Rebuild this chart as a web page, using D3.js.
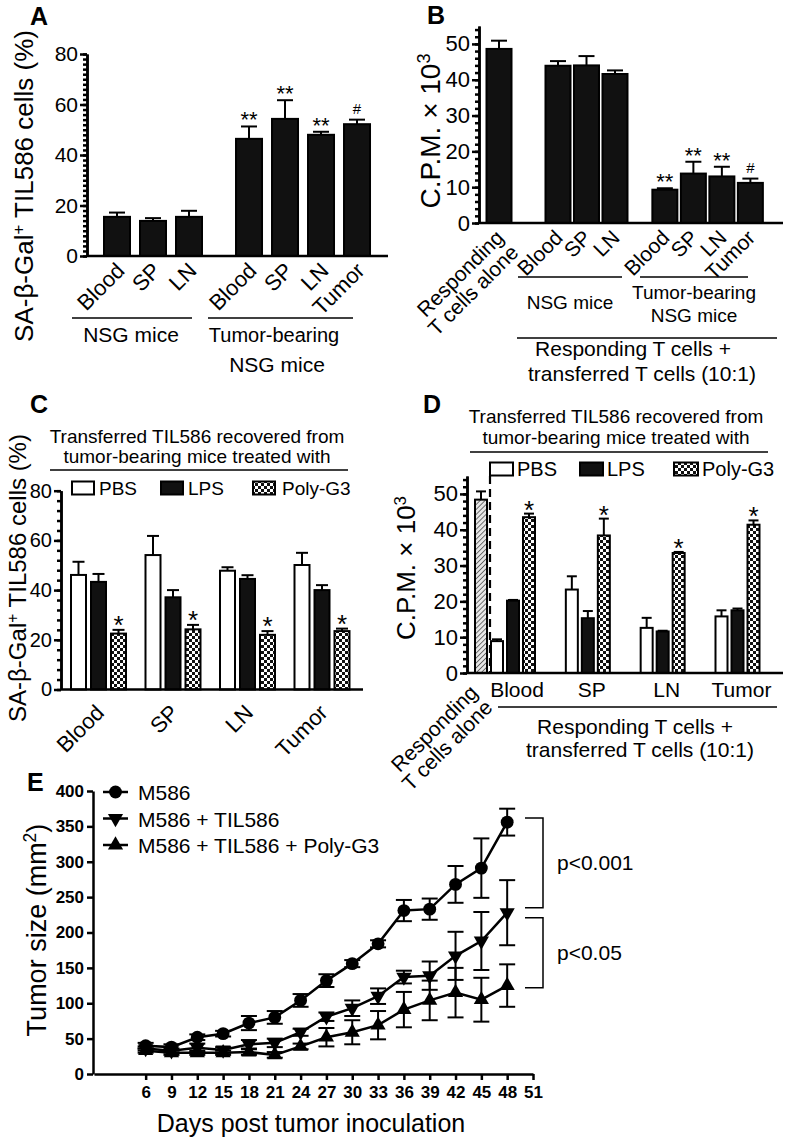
<!DOCTYPE html>
<html><head><meta charset="utf-8">
<script src="https://cdn.jsdelivr.net/npm/d3@7"></script>
<style>body{margin:0;background:#fff} text{font-family:"Liberation Sans",Arial,Helvetica,sans-serif;fill:#000}</style>
</head><body><script>
// ---------- DATA ----------
const aTissuesNSG = ["Blood","SP","LN"];
const aValuesNSG = [15.5, 13.9, 15.5];
const aErrNSG = [1.7, 1.1, 2.4];
const aTissuesTB = ["Blood","SP","LN","Tumor"];
const aValuesTB = [46.4, 54.3, 48.0, 52.2];
const aErrTB = [4.9, 7.4, 1.2, 1.8];
const aSigTB = ["**","**","**","#"];
const aTicks = [0,20,40,60,80];

const bControlLabel = ["Responding","T cells alone"];
const bControlValue = [48.6];
const bControlErr = [2.3];
const bTissuesNSG = ["Blood","SP","LN"];
const bValuesNSG = [43.9, 44.0, 41.6];
const bErrNSG = [1.3, 2.6, 1.0];
const bTissuesTB = ["Blood","SP","LN","Tumor"];
const bValuesTB = [9.3, 13.8, 13.0, 11.2];
const bErrTB = [0.4, 3.3, 2.7, 1.2];
const bSigTB = ["**","**","**","#"];
const bTicks = [0,10,20,30,40,50];

const treatments = ["PBS","LPS","Poly-G3"];
const cTissues = ["Blood","SP","LN","Tumor"];
const cPBS = [46.1, 54.1, 47.8, 50.1];
const cPBSErr = [5.3, 7.7, 1.4, 4.9];
const cLPS = [43.3, 37.1, 44.5, 40.0];
const cLPSErr = [3.2, 2.9, 1.5, 2.0];
const cPoly = [22.5, 24.2, 22.0, 23.5];
const cPolyErr = [1.5, 1.8, 1.5, 1.0];
const cSig = ["*","*","*","*"];
const cTicks = [0,20,40,60,80];

const dControlValue = [48.4];
const dControlErr = [2.3];
const dTissues = ["Blood","SP","LN","Tumor"];
const dPBS = [8.9, 23.3, 12.6, 15.8];
const dPBSErr = [0.5, 3.7, 2.8, 1.7];
const dLPS = [20.2, 15.3, 11.6, 17.5];
const dLPSErr = [0.2, 2.0, 0.2, 0.5];
const dPoly = [43.5, 38.4, 33.5, 41.4];
const dPolyErr = [1.0, 4.7, 0.3, 1.2];
const dSig = ["*","*","*","*"];
const dTicks = [0,10,20,30,40,50];

const eDays = [6,9,12,15,18,21,24,27,30,33,36,39,42,45,48];
const eSeries = ["M586","M586 + TIL586","M586 + TIL586 + Poly-G3"];
const eM586 = [40, 38, 52, 57, 72, 80, 104, 132, 156, 184, 231, 233, 268, 291, 356];
const eM586Err = [4, 4, 4, 4, 10, 9, 9, 9, 5, 5, 15, 15, 26, 42, 19];
const eTIL = [36, 33, 37, 34, 42, 44, 59, 81, 93, 110, 137, 139, 167, 188, 228];
const eTILErr = [3, 3, 6, 4, 6, 6, 5, 6, 11, 11, 9, 20, 34, 41, 46];
const ePoly = [33, 30, 30, 30, 31, 27, 39, 52, 59, 69, 91, 104, 115, 105, 125];
const ePolyErr = [3, 3, 3, 3, 4, 4, 4, 13, 17, 20, 25, 28, 35, 31, 30];
const eYTicks = [0,50,100,150,200,250,300,350,400];
const eXTicks = [6,9,12,15,18,21,24,27,30,33,36,39,42,45,48,51];
const ePvals = ["p<0.001","p<0.05"];

// ---------- SETUP ----------
const FONT = '"Liberation Sans",Arial,Helvetica,sans-serif';
const svg = d3.select("body").append("svg").attr("width",787).attr("height",1137)
  .style("background","#fff");
const defs = svg.append("defs");
const chk = defs.append("pattern").attr("id","checker").attr("patternUnits","userSpaceOnUse")
  .attr("width",6).attr("height",6);
chk.append("rect").attr("width",6).attr("height",6).attr("fill","#fff");
chk.append("rect").attr("width",3).attr("height",3).attr("fill","#111");
chk.append("rect").attr("x",3).attr("y",3).attr("width",3).attr("height",3).attr("fill","#111");
const hatch = defs.append("pattern").attr("id","hatch").attr("patternUnits","userSpaceOnUse")
  .attr("width",3.5).attr("height",3.5).attr("patternTransform","rotate(45)");
hatch.append("rect").attr("width",3.5).attr("height",3.5).attr("fill","#e6e6e6");
hatch.append("line").attr("x1",0).attr("y1",0).attr("x2",0).attr("y2",3.5)
  .attr("stroke","#333").attr("stroke-width",1.3);

function txt(g, x, y, s, fs, opts={}) {
  const t = g.append("text").attr("x",x).attr("y",y).attr("font-size",fs)
    .attr("text-anchor",opts.anchor||"start").text(s);
  if (opts.bold) t.attr("font-weight","bold");
  if (opts.transform) t.attr("transform",opts.transform);
  return t;
}
function yAxis(y, x, major, minor, fs, opts={}) {
  const g1 = svg.append("g").attr("transform",`translate(${x},0)`);
  if (minor) g1.call(d3.axisLeft(y).tickValues(minor).tickSize(opts.minorLen||4).tickSizeOuter(0).tickFormat(""));
  const g2 = svg.append("g").attr("transform",`translate(${x},0)`);
  g2.call(d3.axisLeft(y).tickValues(major).tickSize(opts.tickLen||7).tickSizeOuter(0).tickPadding(opts.pad||2));
  [g1,g2].forEach(g=>{
    g.selectAll("path,line").attr("stroke","#000").attr("stroke-width",opts.sw||2.5);
    g.attr("font-family",FONT).attr("font-size",fs);
    g.selectAll("text").attr("fill","#000").attr("font-weight",opts.bold?"bold":"normal");
  });
}
function hline(x1,x2,y,sw=2.5){ svg.append("line").attr("x1",x1).attr("x2",x2).attr("y1",y).attr("y2",y).attr("stroke","#000").attr("stroke-width",sw); }
function bar(cx, w, y, v, fill) {
  svg.append("rect").attr("x",cx-w/2).attr("y",y(v)).attr("width",w).attr("height",y(0)-y(v))
    .attr("fill",fill).attr("stroke","#000").attr("stroke-width",2);
}
function errUp(cx, y, v, e, cw) {
  svg.append("line").attr("x1",cx).attr("x2",cx).attr("y1",y(v)).attr("y2",y(v+e)).attr("stroke","#000").attr("stroke-width",2);
  svg.append("line").attr("x1",cx-cw/2).attr("x2",cx+cw/2).attr("y1",y(v+e)).attr("y2",y(v+e)).attr("stroke","#000").attr("stroke-width",2);
}
function sig(cx, yTop, s, big, off) {
  if (s === "#") txt(svg, cx, yTop-6, s, 15, {anchor:"middle"});
  else txt(svg, cx, yTop+off, s, big, {anchor:"middle"});
}
function rotLabel(x, y, lines, fs, lh) {
  const t = svg.append("text").attr("font-size",fs).attr("text-anchor","end")
    .attr("transform",`translate(${x},${y}) rotate(-45)`);
  lines.forEach((l,i)=> t.append("tspan").attr("x",0).attr("dy", i===0?0:lh).text(l));
}
function yTitle(x, y, parts, fs) {
  const t = svg.append("text").attr("font-size",fs).attr("text-anchor","middle")
    .attr("transform",`translate(${x},${y}) rotate(-90)`);
  parts.forEach(p=>{
    const ts = t.append("tspan").text(p.t);
    if (p.sup) ts.attr("baseline-shift","super").attr("font-size","65%");
  });
}

// ---------- PANEL A ----------
txt(svg, 30, 25, "A", 25, {bold:true});
const yA = d3.scaleLinear().domain([0,80]).range([256,54]);
const xA = d3.scaleLinear().domain([0,1]).range([117,153]);
const aSlots = [...aTissuesNSG.map((d,i)=>({t:d,v:aValuesNSG[i],e:aErrNSG[i],s:"",slot:i})),
                ...aTissuesTB.map((d,i)=>({t:d,v:aValuesTB[i],e:aErrTB[i],s:aSigTB[i],slot:3.667+i}))];
aSlots.forEach(d=>{
  const cx = xA(d.slot);
  errUp(cx, yA, d.v, d.e, 16);
  bar(cx, 26, yA, d.v, "#111");
  if (d.s) sig(cx, yA(d.v+d.e), d.s, 22, 1);
  rotLabel(cx+9, 272, [d.t], 22, 0);
});
yAxis(yA, 87, aTicks, d3.range(0,81,2), 21);
hline(87, 388, yA(0));
yTitle(33, 186, [{t:"SA-β-Gal"},{t:"+",sup:true},{t:" TIL586 cells (%)"}], 26);
hline(72,192,318,1.5); hline(208,353,318,1.5);
txt(svg, 131, 342, "NSG mice", 21, {anchor:"middle"});
txt(svg, 274, 342, "Tumor-bearing", 20, {anchor:"middle"});
txt(svg, 277, 372, "NSG mice", 21, {anchor:"middle"});

// ---------- PANEL B ----------
txt(svg, 427, 24, "B", 25, {bold:true});
const yB = d3.scaleLinear().domain([0,55]).range([223,26]);
const xB = d3.scaleLinear().domain([0,1]).range([499,527.5]);
const bSlots = [{t:bControlLabel, v:bControlValue[0], e:bControlErr[0], s:"", slot:0},
  ...bTissuesNSG.map((d,i)=>({t:[d],v:bValuesNSG[i],e:bErrNSG[i],s:"",slot:2.07+i})),
  ...bTissuesTB.map((d,i)=>({t:[d],v:bValuesTB[i],e:bErrTB[i],s:bSigTB[i],slot:5.82+i}))];
bSlots.forEach(d=>{
  const cx = xB(d.slot);
  errUp(cx, yB, d.v, d.e, 16);
  bar(cx, 25, yB, d.v, "#111");
  if (d.s) sig(cx, yB(d.v+d.e), d.s, 22, 1);
  rotLabel(cx+6, 239, d.t, 21, 21);
});
yAxis(yB, 479, bTicks, d3.range(0,55,2), 22);
hline(479, 783, yB(0));
yTitle(440, 131, [{t:"C.P.M. × 10"},{t:"3",sup:true}], 28);
hline(518,622,277,1.5); hline(640,748,277,1.5);
txt(svg, 570, 309, "NSG mice", 19, {anchor:"middle"});
txt(svg, 694, 299, "Tumor-bearing", 19, {anchor:"middle"});
txt(svg, 694, 322, "NSG mice", 19, {anchor:"middle"});
hline(517,777,338,1.5);
txt(svg, 633, 356, "Responding T cells +", 21, {anchor:"middle"});
txt(svg, 642, 381, "transferred T cells (10:1)", 21, {anchor:"middle"});

// ---------- legend helper ----------
const fills = {"PBS":"#fff","LPS":"#111","Poly-G3":"url(#checker)"};
function legend(items, y, fs) {
  items.forEach(it=>{
    svg.append("rect").attr("x",it.x).attr("y",y-6.5).attr("width",it.w).attr("height",13)
      .attr("fill",fills[it.t]).attr("stroke","#000").attr("stroke-width",2);
    txt(svg, it.tx, y+7, it.t, fs);
  });
}

// ---------- PANEL C ----------
txt(svg, 30, 413, "C", 25, {bold:true});
txt(svg, 197, 443, "Transferred TIL586 recovered from", 19, {anchor:"middle"});
txt(svg, 197, 463, "tumor-bearing mice treated with", 19, {anchor:"middle"});
hline(50,348,470,1.5);
legend([{t:"PBS",x:72,w:22,tx:99},{t:"LPS",x:161,w:22,tx:188},{t:"Poly-G3",x:253,w:22,tx:282}], 488, 19);
const yC = d3.scaleLinear().domain([0,80]).range([689.5,490.7]);
const xCg = d3.scalePoint().domain(cTissues).range([98.5,322]);
const xCs = d3.scalePoint().domain(treatments).range([-20,20]);
const cVals = {"PBS":[cPBS,cPBSErr],"LPS":[cLPS,cLPSErr],"Poly-G3":[cPoly,cPolyErr]};
cTissues.forEach((t,i)=>{
  treatments.forEach(tr=>{
    const cx = xCg(t)+xCs(tr), v = cVals[tr][0][i], e = cVals[tr][1][i];
    errUp(cx, yC, v, e, 12);
    bar(cx, 15, yC, v, fills[tr]);
    if (tr==="Poly-G3") sig(cx, yC(v+e), cSig[i], 26, 4);
  });
  rotLabel(xCg(t)+7, 714, [t], 22, 0);
});
yAxis(yC, 61, cTicks, d3.range(0,81,4), 20);
hline(61, 363, yC(0));
yTitle(26, 578, [{t:"SA-β-Gal"},{t:"+",sup:true},{t:" TIL586 cells (%)"}], 24);

// ---------- PANEL D ----------
txt(svg, 423, 413, "D", 25, {bold:true});
txt(svg, 616, 423, "Transferred TIL586 recovered from", 19, {anchor:"middle"});
txt(svg, 616, 444, "tumor-bearing mice treated with", 19, {anchor:"middle"});
hline(470,768,452,1.5);
legend([{t:"PBS",x:490,w:23,tx:517},{t:"LPS",x:580,w:23,tx:607},{t:"Poly-G3",x:674,w:24,tx:702}], 469, 20);
const yD = d3.scaleLinear().domain([0,55]).range([673,476]);
const xDg = d3.scalePoint().domain(dTissues).range([513,737.5]);
const xDs = d3.scalePoint().domain(treatments).range([-16,16]);
const dVals = {"PBS":[dPBS,dPBSErr],"LPS":[dLPS,dLPSErr],"Poly-G3":[dPoly,dPolyErr]};
errUp(481, yD, dControlValue[0], dControlErr[0], 10);
bar(481, 12, yD, dControlValue[0], "url(#hatch)");
svg.append("line").attr("x1",490).attr("x2",490).attr("y1",yD(55)).attr("y2",yD(0))
  .attr("stroke","#000").attr("stroke-width",2.2).attr("stroke-dasharray","8,5");
dTissues.forEach((t,i)=>{
  treatments.forEach(tr=>{
    const cx = xDg(t)+xDs(tr), v = dVals[tr][0][i], e = dVals[tr][1][i];
    errUp(cx, yD, v, e, 10);
    bar(cx, 12, yD, v, fills[tr]);
    if (tr==="Poly-G3") sig(cx, yD(v+e), dSig[i], 26, 5);
  });
  txt(svg, xDg(t)+4, 697, t, 21, {anchor:"middle"});
});
yAxis(yD, 467, dTicks, d3.range(0,55,2), 22);
hline(467, 783, yD(0));
rotLabel(479, 694, bControlLabel, 21, 21);
yTitle(415, 568, [{t:"C.P.M. × 10"},{t:"3",sup:true}], 26);
hline(498,777,707,1.5);
txt(svg, 635, 734, "Responding T cells +", 21, {anchor:"middle"});
txt(svg, 640, 757, "transferred T cells (10:1)", 21, {anchor:"middle"});

// ---------- PANEL E ----------
txt(svg, 27, 791, "E", 25, {bold:true});
const yE = d3.scaleLinear().domain([0,400]).range([1074,791]);
const xE = d3.scaleLinear().domain([0,51]).range([94,533]);
const gx = svg.append("g").attr("transform",`translate(0,${yE(0)})`)
  .call(d3.axisBottom(xE).tickValues(eXTicks).tickSize(6).tickSizeOuter(0).tickPadding(6));
gx.selectAll("path,line").attr("stroke","#000").attr("stroke-width",2.5);
gx.attr("font-family",FONT).attr("font-size",17);
gx.selectAll("text").attr("fill","#000").attr("font-weight","bold");
yAxis(yE, 93, eYTicks, null, 17, {bold:true, tickLen:6, pad:3});
const eData = [
  {name:eSeries[0], v:eM586, e:eM586Err, sym:d3.symbolCircle, size:130, rot:0},
  {name:eSeries[1], v:eTIL, e:eTILErr, sym:d3.symbolTriangle, size:100, rot:180},
  {name:eSeries[2], v:ePoly, e:ePolyErr, sym:d3.symbolTriangle, size:100, rot:0}];
const line = d3.line().x(d=>xE(d[0])).y(d=>yE(d[1]));
eData.forEach(s=>{
  const pts = eDays.map((d,i)=>[d, s.v[i], s.e[i]]);
  pts.forEach(p=>{
    const cx = xE(p[0]), y1 = yE(p[1]-p[2]), y2 = yE(p[1]+p[2]);
    svg.append("line").attr("x1",cx).attr("x2",cx).attr("y1",y1).attr("y2",y2).attr("stroke","#000").attr("stroke-width",2);
    [y1,y2].forEach(yy=>svg.append("line").attr("x1",cx-8).attr("x2",cx+8).attr("y1",yy).attr("y2",yy).attr("stroke","#000").attr("stroke-width",2));
  });
  svg.append("path").datum(pts).attr("d",line).attr("fill","none").attr("stroke","#000").attr("stroke-width",2.5);
  pts.forEach(p=>{
    svg.append("path").attr("d",d3.symbol(s.sym,s.size)())
      .attr("transform",`translate(${xE(p[0])},${yE(p[1])}) rotate(${s.rot})`).attr("fill","#000");
  });
});
// legend E
eData.forEach((s,i)=>{
  const y = 792 + i*26.5;
  svg.append("line").attr("x1",103).attr("x2",128).attr("y1",y).attr("y2",y).attr("stroke","#000").attr("stroke-width",2.5);
  svg.append("path").attr("d",d3.symbol(s.sym,s.size)()).attr("transform",`translate(115.5,${y}) rotate(${s.rot})`).attr("fill","#000");
  txt(svg, 138, y+8, s.name, 21);
});
// brackets
const brk = [[362,235],[221,122]];
brk.forEach((b,i)=>{
  svg.append("path").attr("d",`M525,${yE(b[0])}H543V${yE(b[1])}H525`).attr("fill","none").attr("stroke","#000").attr("stroke-width",1.5);
  txt(svg, 557, (yE(b[0])+yE(b[1]))/2+7, ePvals[i], 21);
});
yTitle(46, 930, [{t:"Tumor size (mm"},{t:"2",sup:true},{t:")"}], 27);
txt(svg, 311, 1132, "Days post tumor inoculation", 25, {anchor:"middle"});
</script></body></html>
